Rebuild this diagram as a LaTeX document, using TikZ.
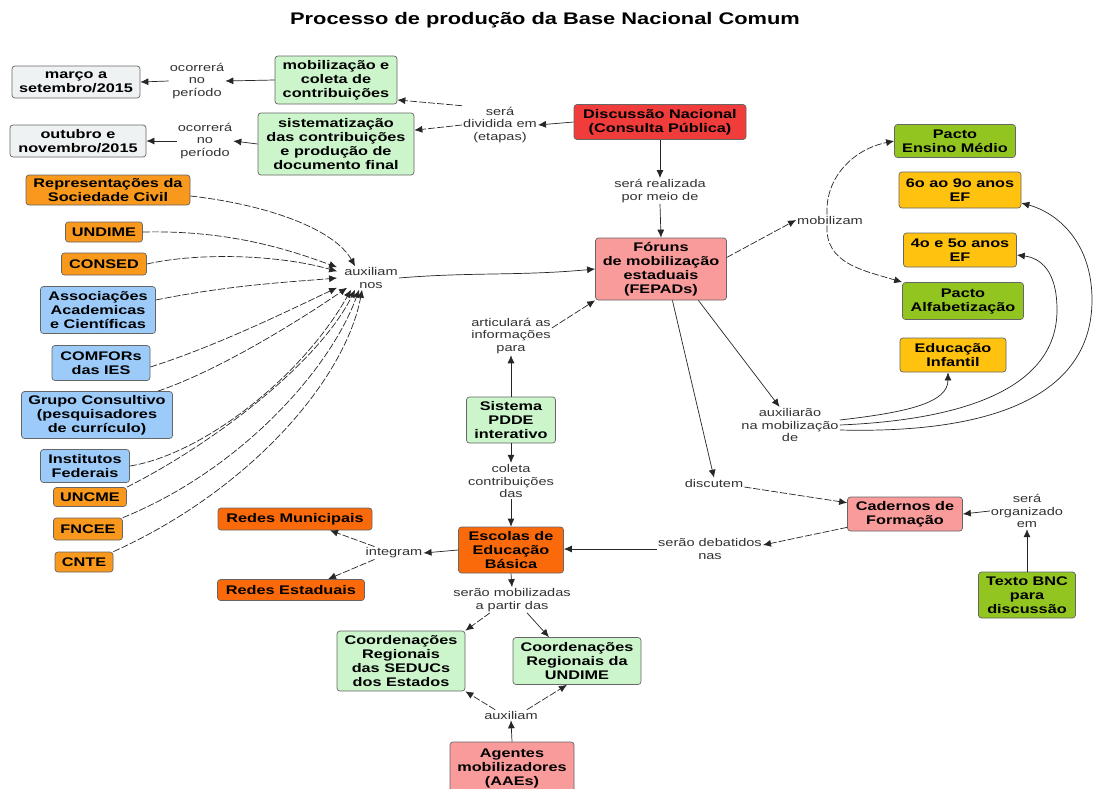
\documentclass[tikz,border=0pt]{standalone}
\usepackage{fontspec}
\setmainfont[FakeStretch=1.3]{Liberation Sans}
\usetikzlibrary{arrows.meta}
\definecolor{cgris}{HTML}{EEF2F3}
\definecolor{cmenta}{HTML}{CCF5CC}
\definecolor{cverm}{HTML}{F03C3A}
\definecolor{crosa}{HTML}{F99B9B}
\definecolor{cverde}{HTML}{92C520}
\definecolor{camar}{HTML}{FFC20E}
\definecolor{claranja}{HTML}{F8981D}
\definecolor{cescura}{HTML}{FA6A0A}
\definecolor{cazul}{HTML}{9CCBFA}
\newcommand\boxfnt{\fontsize{12.5}{14}\selectfont\bfseries}
\newcommand\lblfnt{\fontsize{11.2}{12.8}\selectfont}
\newcommand\titfnt{\fontsize{16.8}{18}\selectfont\bfseries}
\begin{document}
\begin{tikzpicture}[x=1pt,y=-1pt,>={Latex[length=8pt,width=7pt]},
  caixa/.style={draw=black!60,line width=0.7pt,rounded corners=3pt,align=center,font=\boxfnt,inner sep=1pt},
  rotulo/.style={align=center,font=\lblfnt,text=black!80,inner sep=1pt},
  liga/.style={->,draw=black!85,line width=0.7pt},
  ligat/.style={liga,dash pattern=on 7pt off 2pt}]
\useasboundingbox (0,0) rectangle (1096,788);
\fill[white] (0,0) rectangle (1096,788);
\node[font=\titfnt] (titulo) at (545,20) {Processo de produção da Base Nacional Comum};
% caixas
\node[caixa,fill=cgris,minimum width=128pt,minimum height=32pt] (marco) at (76,82) {março a\\setembro/2015};
\node[caixa,fill=cgris,minimum width=136pt,minimum height=32pt] (outubro) at (78,141) {outubro e\\novembro/2015};
\node[caixa,fill=cmenta,minimum width=122pt,minimum height=48pt] (mobcol) at (336,80) {mobilização e\\coleta de\\contribuições};
\node[caixa,fill=cmenta,minimum width=156pt,minimum height=62pt] (sistem) at (336,144) {sistematização\\das contribuições\\e produção de\\documento final};
\node[caixa,fill=cverm,minimum width=172pt,minimum height=35pt] (discnac) at (660,122) {Discussão Nacional\\(Consulta Pública)};
\node[caixa,fill=crosa,minimum width=131pt,minimum height=62pt] (foruns) at (661,269) {Fóruns\\de mobilização\\estaduais\\(FEPADs)};
\node[caixa,fill=cverde,minimum width=121pt,minimum height=33pt] (pactoem) at (955,141) {Pacto\\Ensino Médio};
\node[caixa,fill=camar,minimum width=122pt,minimum height=36pt] (ef69) at (960,190) {6o ao 9o anos\\EF};
\node[caixa,fill=camar,minimum width=113pt,minimum height=34pt] (ef45) at (960,250) {4o e 5o anos\\EF};
\node[caixa,fill=cverde,minimum width=121pt,minimum height=37pt] (pactoalf) at (963,301) {Pacto\\Alfabetização};
\node[caixa,fill=camar,minimum width=106pt,minimum height=34pt] (edinf) at (953,355) {Educação\\Infantil};
\node[caixa,fill=crosa,minimum width=115pt,minimum height=34pt] (cadernos) at (905,514) {Cadernos de\\Formação};
\node[caixa,fill=cverde,minimum width=97pt,minimum height=46pt] (textobnc) at (1027,595) {Texto BNC\\para\\discussão};
\node[caixa,fill=cmenta,minimum width=89pt,minimum height=46pt] (pdde) at (511,420) {Sistema\\PDDE\\interativo};
\node[caixa,fill=cescura,minimum width=105pt,minimum height=46pt] (escolas) at (511,550) {Escolas de\\Educação\\Básica};
\node[caixa,fill=cescura,minimum width=154pt,minimum height=22pt] (redmun) at (295,519) {Redes Municipais};
\node[caixa,fill=cescura,minimum width=147pt,minimum height=21pt] (redest) at (291,590) {Redes Estaduais};
\node[caixa,fill=cmenta,minimum width=128pt,minimum height=60pt] (coordsed) at (401,661) {Coordenações\\Regionais\\das SEDUCs\\dos Estados};
\node[caixa,fill=cmenta,minimum width=128pt,minimum height=47pt] (coordund) at (577,661) {Coordenações\\Regionais da\\UNDIME};
\node[caixa,fill=crosa,minimum width=124pt,minimum height=52pt] (agentes) at (512,768) {Agentes\\mobilizadores\\(AAEs)};
% entidades a esquerda
\node[caixa,fill=claranja,minimum width=164pt,minimum height=30pt] (repres) at (108,190) {Representações da\\Sociedade Civil};
\node[caixa,fill=claranja,minimum width=77pt,minimum height=20pt] (undime) at (104,232) {UNDIME};
\node[caixa,fill=claranja,minimum width=85pt,minimum height=22pt] (consed) at (104,264) {CONSED};
\node[caixa,fill=cazul,minimum width=115pt,minimum height=47pt] (assoc) at (98,310) {Associações\\Academicas\\e Científicas};
\node[caixa,fill=cazul,minimum width=98pt,minimum height=35pt] (comfor) at (101,363) {COMFORs\\das IES};
\node[caixa,fill=cazul,minimum width=151pt,minimum height=47pt] (grupo) at (97,415) {Grupo Consultivo\\(pesquisadores\\de currículo)};
\node[caixa,fill=cazul,minimum width=89pt,minimum height=33pt] (instit) at (85,466) {Institutos\\Federais};
\node[caixa,fill=claranja,minimum width=73pt,minimum height=19pt] (uncme) at (90,497) {UNCME};
\node[caixa,fill=claranja,minimum width=69pt,minimum height=22pt] (fncee) at (88,529) {FNCEE};
\node[caixa,fill=claranja,minimum width=58pt,minimum height=20pt] (cnte) at (84,562) {CNTE};
% frases de ligacao
\node[rotulo] (ldivid) at (500,125) {será\\dividida em\\(etapas)};
\node[rotulo] (locorr) at (197,81) {ocorrerá\\no\\período};
\node[rotulo] (locorrb) at (205,141) {ocorrerá\\no\\período};
\node[rotulo] (lrealiz) at (660,191) {será realizada\\por meio de};
\node[rotulo] (lmobil) at (830,220) {mobilizam};
\node[rotulo] (lauxil) at (790,425) {auxiliarão\\na mobilização\\de};
\node[rotulo] (ldiscut) at (714,483) {discutem};
\node[rotulo] (lorgan) at (1027,511) {será\\organizado\\em};
\node[rotulo] (ldebat) at (710,549) {serão debatidos\\nas};
\node[rotulo] (linteg) at (394,553) {integram};
\node[rotulo] (lapart) at (512,600) {serão mobilizadas\\a partir das};
\node[rotulo] (lauxb) at (511,715) {auxiliam};
\node[rotulo] (lartic) at (511,336) {articulará as\\informações\\para};
\node[rotulo] (lcoleta) at (511,481) {coleta\\contribuições\\das};
\node[rotulo] (lnos) at (371,278) {auxiliam\\nos};
% ligacoes
\draw[liga] (discnac.west) -- (ldivid.east);
\draw[ligat] (ldivid.north west) -- (mobcol.-18);
\draw[ligat] (ldivid.west) -- (sistem.10);
\draw[liga] (mobcol.west) -- (locorr.east);
\draw[liga] (locorr.west) -- (marco.east);
\draw[liga] (sistem.west) -- (locorrb.east);
\draw[liga] (locorrb.west) -- (outubro.east);
\draw[liga] (discnac.south) -- (lrealiz.north);
\draw[liga] (lrealiz.south) -- (foruns.north);
\draw[ligat] (foruns.10) -- (lmobil.west);
\draw[ligat] ([xshift=-3pt]lmobil.north) .. controls +(-2,-38) and +(-40,8) .. (pactoem.west);
\draw[ligat] ([xshift=-3pt]lmobil.south) .. controls +(-2,38) and +(-40,-12) .. (pactoalf.north west);
\draw[liga] (foruns.-40) -- (lauxil.120);
\draw[liga] ([yshift=5pt]lauxil.east) .. controls +(70,-8) and +(0,30) .. ([xshift=-5pt]edinf.south);
\draw[liga] ([yshift=0pt]lauxil.east) .. controls (960,420) and (1057,390) .. (1057,310)
  .. controls (1057,270) and (1040,258) .. (ef45.-5);
\draw[liga] ([yshift=-5pt]lauxil.east) .. controls (1000,434) and (1092,392) .. (1092,300)
  .. controls (1092,240) and (1055,212) .. (ef69.-12);
\draw[liga] (foruns.-70) -- (ldiscut.north);
\draw[ligat] ([yshift=-4pt]ldiscut.east) -- (cadernos.169);
\draw[ligat] (cadernos.193) -- ([yshift=4pt]ldebat.east);
\draw[liga] (ldebat.west) -- (ldebat.west -| escolas.east);
\draw[liga] (textobnc.north) -- (lorgan.south);
\draw[liga] (lorgan.west) -- (cadernos.east);
\draw[liga] (pdde.north) -- (lartic.south);
\draw[ligat] ([yshift=8pt]lartic.east) -- (foruns.south west);
\draw[liga] (pdde.south) -- (lcoleta.north);
\draw[liga] (lcoleta.south) -- (escolas.north);
\draw[liga] (escolas.west) -- (linteg.east);
\draw[ligat] ([xshift=10pt]linteg.north west) -- ([xshift=35pt]redmun.south);
\draw[ligat] ([xshift=10pt]linteg.south west) -- ([xshift=37pt]redest.north);
\draw[liga] (escolas.south) -- (lapart.north);
\draw[ligat] ([xshift=-22pt]lapart.south) -- (coordsed.north east);
\draw[liga] ([xshift=15pt]lapart.south) -- ([xshift=-28pt]coordund.north);
\draw[liga] (agentes.north) -- (lauxb.south);
\draw[ligat] ([xshift=12pt]lauxb.north west) -- (coordsed.south east);
\draw[ligat] ([xshift=-12pt]lauxb.north east) -- ([xshift=-10pt]coordund.south);
\draw[liga] (lnos.east) .. controls (470,272) and (520,276) .. (foruns.west);
% entidades -> auxiliam nos
\draw[ligat] ([yshift=-6pt]repres.east) .. controls (270,205) and (335,230) .. ([xshift=12pt]lnos.north west);
\draw[ligat] (undime.east) .. controls (230,230) and (290,250) .. ([xshift=-6pt,yshift=-1pt]lnos.north west);
\draw[ligat] (consed.east) .. controls (200,252) and (280,255) .. ([xshift=-6pt,yshift=-5pt]lnos.north west);
\draw[ligat] ([yshift=10pt]assoc.east) .. controls (230,285) and (290,282) .. ([xshift=-6pt]lnos.west);
\draw[ligat] ([yshift=-4pt]comfor.east) .. controls (220,345) and (300,305) .. ([xshift=-6pt,yshift=2pt]lnos.south west);
\draw[ligat] ([xshift=-15pt]grupo.north east) .. controls (220,370) and (300,320) .. ([xshift=4pt,yshift=2pt]lnos.south west);
\draw[ligat] (instit.east) .. controls (200,455) and (300,380) .. ([xshift=8pt]lnos.south west);
\draw[ligat] (uncme.north east) .. controls (220,440) and (320,360) .. ([xshift=12pt]lnos.south west);
\draw[ligat] (fncee.north east) .. controls (240,470) and (330,370) .. ([xshift=16pt]lnos.south west);
\draw[ligat] (cnte.north east) .. controls (250,490) and (345,380) .. ([xshift=19pt]lnos.south west);
\end{tikzpicture}
\end{document}
